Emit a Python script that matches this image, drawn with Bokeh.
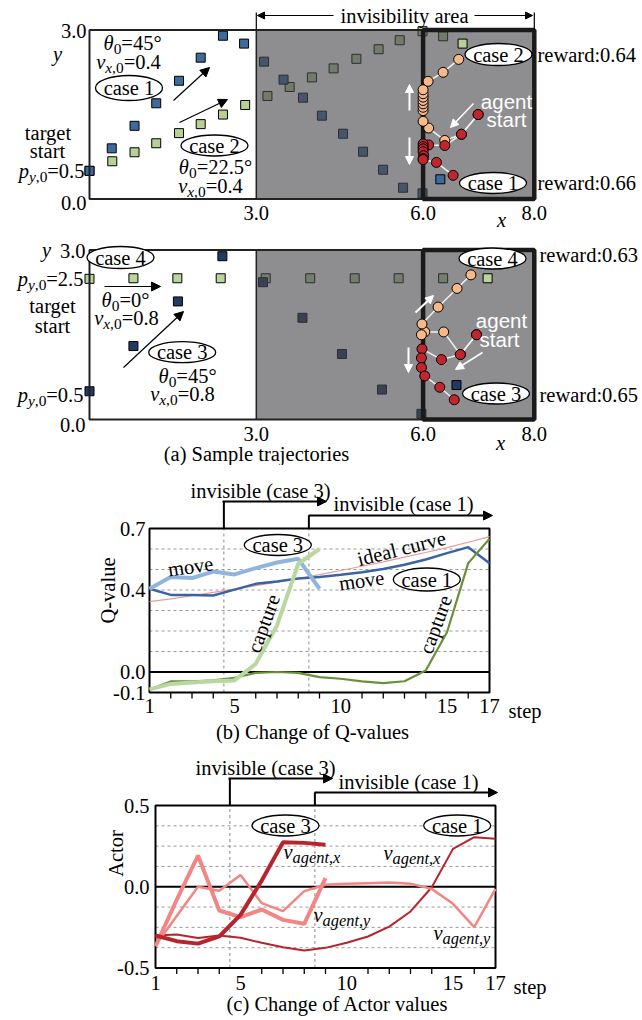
import math
from bokeh.plotting import figure
from bokeh.models import Range1d, Arrow, NormalHead
from bokeh.layouts import column
from bokeh.embed import file_html
from bokeh.resources import INLINE
from bokeh.core.properties import value

SERIF = "Liberation Serif"
SANS = "Liberation Sans"
FS = 20.5
PAGE_W = 640

# ---------------- DATA ----------------
# (a) upper panel: target (squares) and agent (circles) positions, cases 1 and 2
case1_target_x = [0.0, 0.40, 0.81, 1.20, 1.61, 2.00, 2.40, 2.78, 3.14, 3.49, 3.84, 4.18, 4.56, 4.92, 5.28, 5.64, 5.99, 6.31]
case1_target_y = [0.50, 0.90, 1.30, 1.70, 2.10, 2.51, 2.90, 2.76, 2.44, 2.12, 1.80, 1.48, 1.16, 0.84, 0.52, 0.20, 0.10, 0.35]
case2_target_x = [0.0, 0.41, 0.81, 1.20, 1.61, 2.00, 2.40, 2.80, 3.20, 3.60, 4.00, 4.39, 4.80, 5.20, 5.58, 5.99, 6.36, 6.71]
case2_target_y = [0.50, 0.67, 0.83, 0.99, 1.17, 1.33, 1.50, 1.67, 1.83, 1.99, 2.16, 2.32, 2.49, 2.66, 2.82, 2.98, 2.89, 2.76]
case1_agent_x = [6.99, 6.69, 6.39, 6.10, 6.00, 6.00, 6.00, 6.00, 6.01, 6.00, 6.00, 6.24, 6.54]
case1_agent_y = [1.50, 1.15, 0.95, 0.96, 0.98, 0.93, 0.89, 0.84, 0.77, 0.72, 0.70, 0.65, 0.42]
case2_agent_x = [6.99, 6.69, 6.39, 6.10, 6.00, 6.00, 6.00, 6.00, 6.00, 6.00, 6.00, 6.00, 6.09, 6.36, 6.64]
case2_agent_y = [1.50, 1.15, 1.04, 1.26, 1.38, 1.57, 1.63, 1.69, 1.75, 1.81, 1.87, 1.94, 2.09, 2.25, 2.48]

# (a) lower panel: cases 3 and 4
case3_target_x = [0.0, 0.79, 1.59, 2.39, 3.12, 3.83, 4.54, 5.26, 5.97, 6.60]
case3_target_y = [0.50, 1.30, 2.09, 2.89, 2.43, 1.80, 1.16, 0.53, 0.10, 0.61]
case4_target_x = [0.0, 0.79, 1.58, 2.36, 3.17, 3.97, 4.77, 5.56, 6.36, 7.16]
case4_target_y = [2.49, 2.50, 2.50, 2.50, 2.50, 2.50, 2.50, 2.50, 2.50, 2.50]
case3_agent_x = [6.96, 6.67, 6.33, 5.98, 5.97, 5.97, 6.03, 6.30, 6.56]
case3_agent_y = [1.50, 1.15, 1.06, 1.25, 1.09, 0.92, 0.77, 0.57, 0.35]
case4_agent_x = [6.96, 6.67, 6.37, 6.03, 5.97, 5.98, 6.27, 6.61, 6.86]
case4_agent_y = [1.50, 1.15, 1.55, 1.55, 1.50, 1.69, 1.99, 2.32, 2.56]

area_x = [0.0, 3.0, 6.0, 8.0]      # field, invisibility start, agent box
area_y = [0.0, 3.0]
traj_xticks = [3.0, 6.0, 8.0]
traj_yticks = [3.0, 0.0]

# (b) Q-values
steps_c1 = list(range(1, 18))
steps_c3 = list(range(1, 10))
q_ideal = [0.343, 0.357, 0.372, 0.388, 0.404, 0.421, 0.438, 0.456, 0.475, 0.495, 0.516, 0.537, 0.560, 0.583, 0.607, 0.633, 0.660]
q_move_c1 = [0.406, 0.376, 0.376, 0.373, 0.402, 0.430, 0.441, 0.456, 0.463, 0.474, 0.487, 0.502, 0.523, 0.549, 0.580, 0.609, 0.531]
q_capture_c1 = [-0.085, -0.046, -0.045, -0.041, -0.028, -0.004, 0.000, -0.004, -0.025, -0.033, -0.046, -0.054, -0.045, 0.007, 0.194, 0.531, 0.650]
q_move_c3 = [0.406, 0.463, 0.458, 0.490, 0.476, 0.507, 0.534, 0.552, 0.406]
q_capture_c3 = [-0.085, -0.058, -0.051, -0.045, -0.041, 0.040, 0.227, 0.528, 0.600]
q_yticks = [0.7, 0.4, 0.0, -0.1]
q_ylabels = ["0.7", "0.4", "0.0", "-0.1"]
q_grid = [0.1, 0.2, 0.3, 0.4, 0.5, 0.6]

# (c) Actor values
a_vx_c3 = [-0.300, -0.335, -0.350, -0.306, -0.173, 0.038, 0.274, 0.270, 0.258]
a_vy_c3 = [-0.366, -0.080, 0.192, -0.146, -0.187, -0.140, -0.204, -0.228, 0.053]
a_vx_c1 = [-0.300, -0.294, -0.316, -0.300, -0.314, -0.345, -0.372, -0.392, -0.376, -0.345, -0.306, -0.245, -0.152, -0.003, 0.233, 0.305, 0.295]
a_vy_c1 = [-0.360, -0.180, 0.000, -0.024, 0.073, -0.101, -0.150, -0.027, 0.012, 0.018, 0.022, 0.026, 0.018, -0.013, -0.105, -0.249, -0.013]
a_yticks = [0.5, 0.0, -0.5]
a_ylabels = ["0.5", "0.0", "-0.5"]
a_grid = [0.375, 0.25, 0.125, -0.125, -0.25, -0.375]

step_xticks = [1, 5, 10, 15, 17]
step_minor = [2, 3, 4, 6, 7, 8, 9, 11, 12, 13, 14, 16]
invis_start = [4.5, 8.5]     # case 3, case 1

# colours
C_BLUE, C_GREEN2, C_NAVY, C_GREEN4 = "#3f6a9c", "#b6d095", "#213963", "#b9d49d"
C_RED, C_PEACH = "#c1262e", "#f8b98a"

# ---------------- helpers ----------------
W_REG = {' ': .25, ',': .25, '.': .25, ':': .278, '=': .564, '-': .333, '(': .333, ')': .333,
         '°': .4, 'a': .444, 'c': .444, 'e': .444, 'f': .333, 'i': .278, 'j': .278, 'l': .278,
         'm': .778, 'r': .333, 's': .389, 't': .278, 'w': .722, 'z': .444}
W_IT = {',': .25, '.': .25, 'e': .444, 't': .278, 'v': .444, 'x': .444, 'y': .444, 'i': .278}


class Map:
    """page-pixel <-> data mapping of one panel"""
    def __init__(self, px0, vx0, kx, py0, vy0, ky):
        self.px0, self.vx0, self.kx, self.py0, self.vy0, self.ky = px0, vx0, kx, py0, vy0, ky

    def X(self, px):
        return self.vx0 + (px - self.px0) / self.kx

    def Y(self, py):
        return self.vy0 - (py - self.py0) / self.ky


def make_fig(M, top, bottom):
    return figure(width=PAGE_W, height=bottom - top,
                  x_range=Range1d(M.X(0), M.X(PAGE_W)), y_range=Range1d(M.Y(bottom), M.Y(top)),
                  x_axis_type=None, y_axis_type=None, toolbar_location=None,
                  output_backend="svg", min_border=0, min_border_left=0, min_border_right=0,
                  min_border_top=0, min_border_bottom=0, outline_line_color=None,
                  background_fill_color="white", border_fill_color="white")


def txt(p, M, px, py, s, size=FS, align="center", color="black", font=SERIF, style="normal", angle=0.0):
    p.text(x=[M.X(px)], y=[M.Y(py)], text=[s], text_font=value(font),
           text_font_size=value(f"{size}px"), text_font_style=value(style),
           text_align=align, text_baseline="middle", text_color=color, angle=angle)


def rich(p, M, px, py, parts, size=FS, align="center", color="black", ratio=0.75):
    items, total = [], 0.0
    for t, it, sub in parts:
        fs = size * ratio if sub else size
        w = sum((W_IT if it else W_REG).get(ch, 0.5) for ch in t) * fs
        items.append((t, it, sub, fs, w))
        total += w
    off = {"left": 0.0, "center": -total / 2, "right": -total}[align]
    for t, it, sub, fs, w in items:
        dy = 0.3 * size if sub else 0.0
        p.text(x=[M.X(px + off)], y=[M.Y(py + dy)], text=[t], text_font=value(SERIF),
               text_font_size=value(f"{fs:.1f}px"),
               text_font_style=value("italic" if it else "normal"),
               text_align="left", text_baseline="middle", text_color=color)
        off += w


def ell(p, M, px, py, label, w=67, h=22):
    p.ellipse(x=[M.X(px)], y=[M.Y(py)], width=w, height=h, width_units="screen",
              height_units="screen", fill_color="white", line_color="black", line_width=1.3)
    txt(p, M, px, py, label)


def arr(p, M, a, b, color="black", lw=1.2, hs=9):
    p.add_layout(Arrow(end=NormalHead(size=hs, fill_color=color, line_color=color, line_width=1),
                       x_start=M.X(a[0]), y_start=M.Y(a[1]), x_end=M.X(b[0]), y_end=M.Y(b[1]),
                       line_color=color, line_width=lw))


def theta(th):
    return [("θ", True, False), ("0", False, True), ("=" + th, False, False)]


def vx0(v):
    return [("v", True, False), ("x", True, True), (",0", False, True), ("=" + v, False, False)]


def py0(v):
    return [("p", True, False), ("y", True, True), (",0", False, True), ("=" + v, False, False)]


def vag(c):
    return [("v", True, False), ("agent," + c, True, True)]


def traj_panel(p, targets, agents):
    for tx, ty, c in targets:
        p.scatter(tx[:-1], ty[:-1], marker="square", size=9, fill_color=c, line_color="black", line_width=1)
    p.quad(left=[area_x[1]], right=[area_x[3]], bottom=[area_y[0]], top=[area_y[1]],
           fill_color="#48494e", fill_alpha=0.62, line_color=None)
    p.quad(left=[area_x[0]], right=[area_x[3]], bottom=[area_y[0]], top=[area_y[1]],
           fill_color=None, line_color="#222222", line_width=2)
    p.segment(x0=[area_x[1]], y0=[area_y[0]], x1=[area_x[1]], y1=[area_y[1]], line_color="#222222", line_width=1.5)
    p.quad(left=[area_x[2]], right=[area_x[3]], bottom=[area_y[0]], top=[area_y[1]],
           fill_color=None, line_color="#1a1a1a", line_width=4.5)
    for tx, ty, c in targets:
        p.scatter(tx[-1:], ty[-1:], marker="square", size=9, fill_color=c, line_color="black", line_width=1)
    for ax, ay, c in agents:
        p.line(ax, ay, line_color="#f0f0f0", line_width=1.5)
    for ax, ay, c in agents:
        p.scatter(ax, ay, marker="circle", size=10, fill_color=c, line_color="black", line_width=1)


# ---------------- (a) upper ----------------
M1 = Map(89, 0.0, 55.6, 198.5, 0.0, 56.3)
p1 = make_fig(M1, 0, 233)
traj_panel(p1, [(case2_target_x, case2_target_y, C_GREEN2), (case1_target_x, case1_target_y, C_BLUE)],
           [(case2_agent_x, case2_agent_y, C_PEACH), (case1_agent_x, case1_agent_y, C_RED)])
p1.text(x=[M1.X(86)] * 2, y=traj_yticks, text=["%.1f" % v for v in traj_yticks], text_font=value(SERIF),
        text_font_size=value(f"{FS}px"), text_align="right", text_baseline="middle", y_offset=[1, 4])
p1.text(x=traj_xticks, y=[M1.Y(212)] * 3, text=["%.1f" % v for v in traj_xticks], text_font=value(SERIF),
        text_font_size=value(f"{FS}px"), text_align="center", text_baseline="middle")
txt(p1, M1, 57, 53, "y", style="italic")
txt(p1, M1, 501, 219, "x", style="italic")
# invisibility bracket
p1.segment(x0=[area_x[1]], y0=[area_y[1]], x1=[area_x[1]], y1=[M1.Y(12)], line_color="black", line_width=1.2)
p1.segment(x0=[area_x[3]], y0=[area_y[1]], x1=[area_x[3]], y1=[M1.Y(12)], line_color="black", line_width=1.2)
arr(p1, M1, (333, 15), (257, 15), lw=1.2, hs=7)
arr(p1, M1, (474, 15), (532, 15), lw=1.2, hs=7)
txt(p1, M1, 404, 15, "invisibility area")
# left annotations
rich(p1, M1, 132, 42, theta("45°"))
rich(p1, M1, 128, 61, vx0("0.4"))
ell(p1, M1, 128.5, 87.5, "case 1", h=25)
txt(p1, M1, 47.5, 132, "target")
txt(p1, M1, 47, 150, "start")
rich(p1, M1, 84, 170, py0("0.5"), align="right")
ell(p1, M1, 214, 145, "case 2", h=21)
rich(p1, M1, 215, 166, theta("22.5°"))
rich(p1, M1, 210, 185, vx0("0.4"))
arr(p1, M1, (173, 100), (209, 67))
arr(p1, M1, (179, 122), (227, 99))
# right annotations
arr(p1, M1, (409, 110), (409, 84), color="white", lw=2, hs=8)
arr(p1, M1, (409, 137), (409, 164), color="white", lw=2, hs=8)
arr(p1, M1, (473, 103), (450, 127), color="white", lw=1.5, hs=8)
txt(p1, M1, 506, 101, "agent", color="white", font=SANS)
txt(p1, M1, 506, 119, "start", color="white", font=SANS)
ell(p1, M1, 498, 54, "case 2")
ell(p1, M1, 492.5, 182.5, "case 1", h=21)
txt(p1, M1, 537, 54, "reward:0.64", align="left")
txt(p1, M1, 537, 182, "reward:0.66", align="left")

# ---------------- (a) lower ----------------
M2 = Map(89, 0.0, 55.6, 419, 0.0, 56.5)
p2 = make_fig(M2, 233, 465)
traj_panel(p2, [(case4_target_x, case4_target_y, C_GREEN4), (case3_target_x, case3_target_y, C_NAVY)],
           [(case4_agent_x, case4_agent_y, C_PEACH), (case3_agent_x, case3_agent_y, C_RED)])
p2.text(x=[M2.X(85)] * 2, y=traj_yticks, text=["%.1f" % v for v in traj_yticks], text_font=value(SERIF),
        text_font_size=value(f"{FS}px"), text_align="right", text_baseline="middle", y_offset=[1, 5])
p2.text(x=traj_xticks, y=[M2.Y(433)] * 3, text=["%.1f" % v for v in traj_xticks], text_font=value(SERIF),
        text_font_size=value(f"{FS}px"), text_align="center", text_baseline="middle")
txt(p2, M2, 46, 249, "y", style="italic")
txt(p2, M2, 500, 442, "x", style="italic")
txt(p2, M2, 256, 453, "(a) Sample trajectories")
ell(p2, M2, 120, 257, "case 4")
rich(p2, M2, 83, 278, py0("2.5"), align="right")
txt(p2, M2, 52, 305, "target")
txt(p2, M2, 52, 325, "start")
arr(p2, M2, (104, 286), (160, 286))
rich(p2, M2, 125, 299, theta("0°"))
rich(p2, M2, 126, 317, vx0("0.8"))
arr(p2, M2, (123, 367), (183, 311))
ell(p2, M2, 181.7, 351.7, "case 3", h=21)
rich(p2, M2, 187, 375, theta("45°"))
rich(p2, M2, 182, 393, vx0("0.8"))
rich(p2, M2, 83, 394, py0("0.5"), align="right")
arr(p2, M2, (415, 312), (433, 295), color="white", lw=2, hs=8)
arr(p2, M2, (408, 347), (408, 372), color="white", lw=2, hs=8)
arr(p2, M2, (482, 352), (455, 369), color="white", lw=1.5, hs=8)
txt(p2, M2, 501, 320, "agent", color="white", font=SANS)
txt(p2, M2, 499, 339, "start", color="white", font=SANS)
ell(p2, M2, 492, 258, "case 4", h=21)
ell(p2, M2, 495.5, 393, "case 3", h=21)
txt(p2, M2, 539, 254, "reward:0.63", align="left")
txt(p2, M2, 539, 394, "reward:0.65", align="left")


# ---------------- line panels ----------------
def line_frame(p, M, ylo, yhi, grid, yticks, ylabels, ylab_px, tick_h):
    p.segment(x0=[1] * len(grid), x1=[17] * len(grid), y0=grid, y1=grid, line_color="#9a9a9a",
              line_width=1, line_dash="3 3")
    p.segment(x0=invis_start, x1=invis_start, y0=[ylo] * 2, y1=[yhi] * 2, line_color="#8a8a8a",
              line_width=1, line_dash="3 3")
    p.segment(x0=[1], x1=[17], y0=[0.0], y1=[0.0], line_color="black", line_width=2)
    p.quad(left=[1], right=[17], bottom=[ylo], top=[yhi], fill_color=None, line_color="black", line_width=2)
    p.segment(x0=step_minor, x1=step_minor, y0=[ylo] * len(step_minor),
              y1=[ylo - tick_h] * len(step_minor), line_color="black", line_width=1.3)
    p.text(x=[M.X(ylab_px)] * len(yticks), y=yticks, text=ylabels, text_font=value(SERIF),
           text_font_size=value(f"{FS}px"), text_align="right", text_baseline="middle")


M3 = Map(149, 1.0, 21.25, 528, 0.7, 205.0)
p3 = make_fig(M3, 465, 748)
line_frame(p3, M3, -0.1, 0.7, q_grid, q_yticks, q_ylabels, 145, 6 / 205)
p3.line(steps_c1, q_ideal, line_color="#e59c9c", line_width=1.2)
p3.line(steps_c1, q_move_c1, line_color="#3a64a0", line_width=2.5)
p3.line(steps_c1, q_capture_c1, line_color="#6b8f3a", line_width=2.2)
p3.line(steps_c3, q_move_c3, line_color="#8fb5dc", line_width=4)
p3.line(steps_c3, q_capture_c3, line_color="#b9d79e", line_width=4)
p3.text(x=step_xticks, y=[M3.Y(705)] * 5, text=[str(s) for s in step_xticks], text_font=value(SERIF),
        text_font_size=value(f"{FS}px"), text_align="center", text_baseline="middle")
txt(p3, M3, 508, 710, "step", align="left")
txt(p3, M3, 107, 590, "Q-value", angle=math.pi / 2)
txt(p3, M3, 312, 731, "(b) Change of Q-values")
p3.segment(x0=[invis_start[0]], y0=[0.7], x1=[invis_start[0]], y1=[M3.Y(501)], line_color="black", line_width=2)
arr(p3, M3, (222, 501), (326, 501), lw=2, hs=9)
p3.segment(x0=[invis_start[1]], y0=[0.7], x1=[invis_start[1]], y1=[M3.Y(515)], line_color="black", line_width=2)
arr(p3, M3, (308, 515), (492, 515), lw=2, hs=9)
txt(p3, M3, 260, 490, "invisible (case 3)")
txt(p3, M3, 403, 503, "invisible (case 1)")
txt(p3, M3, 190, 566, "move", angle=math.radians(8))
ell(p3, M3, 277.3, 544.5, "case 3", h=21)
txt(p3, M3, 263, 623, "capture", angle=math.radians(70))
txt(p3, M3, 401, 548, "ideal curve", angle=math.radians(14))
txt(p3, M3, 361, 580, "move", angle=math.radians(8))
ell(p3, M3, 426.3, 579, "case 1", h=23)
txt(p3, M3, 435, 624, "capture", angle=math.radians(70))

M4 = Map(155, 1.0, 21.25, 805, 0.5, 162.5)
p4 = make_fig(M4, 748, 1018)
line_frame(p4, M4, -0.5, 0.5, a_grid, a_yticks, a_ylabels, 149, 6 / 162.5)
p4.line(steps_c1, a_vx_c1, line_color="#b8242d", line_width=2)
p4.line(steps_c1, a_vy_c1, line_color="#f38585", line_width=2.5)
p4.line(steps_c3, a_vy_c3, line_color="#f38585", line_width=4)
p4.line(steps_c3, a_vx_c3, line_color="#b8242d", line_width=4)
p4.text(x=step_xticks, y=[M4.Y(982)] * 5, text=[str(s) for s in step_xticks], text_font=value(SERIF),
        text_font_size=value(f"{FS}px"), text_align="center", text_baseline="middle")
txt(p4, M4, 513, 986, "step", align="left")
txt(p4, M4, 115, 853, "Actor", angle=math.pi / 2)
txt(p4, M4, 337, 1003, "(c) Change of Actor values")
p4.segment(x0=[invis_start[0]], y0=[0.5], x1=[invis_start[0]], y1=[M4.Y(778)], line_color="black", line_width=2)
arr(p4, M4, (228, 778), (332, 778), lw=2, hs=9)
p4.segment(x0=[invis_start[1]], y0=[0.5], x1=[invis_start[1]], y1=[M4.Y(792)], line_color="black", line_width=2)
arr(p4, M4, (314, 792), (497, 792), lw=2, hs=9)
txt(p4, M4, 265, 767, "invisible (case 3)")
txt(p4, M4, 408, 781, "invisible (case 1)")
ell(p4, M4, 285, 825, "case 3", h=21)
ell(p4, M4, 456.7, 825, "case 1", h=21)
rich(p4, M4, 283, 851, vag("x"), align="left", ratio=0.8)
rich(p4, M4, 313, 914, vag("y"), align="left", ratio=0.8)
rich(p4, M4, 383, 852, vag("x"), align="left", ratio=0.8)
rich(p4, M4, 433, 932, vag("y"), align="left", ratio=0.8)

layout = column(p1, p2, p3, p4, spacing=0)
open("out.html", "w").write(file_html(layout, INLINE))
